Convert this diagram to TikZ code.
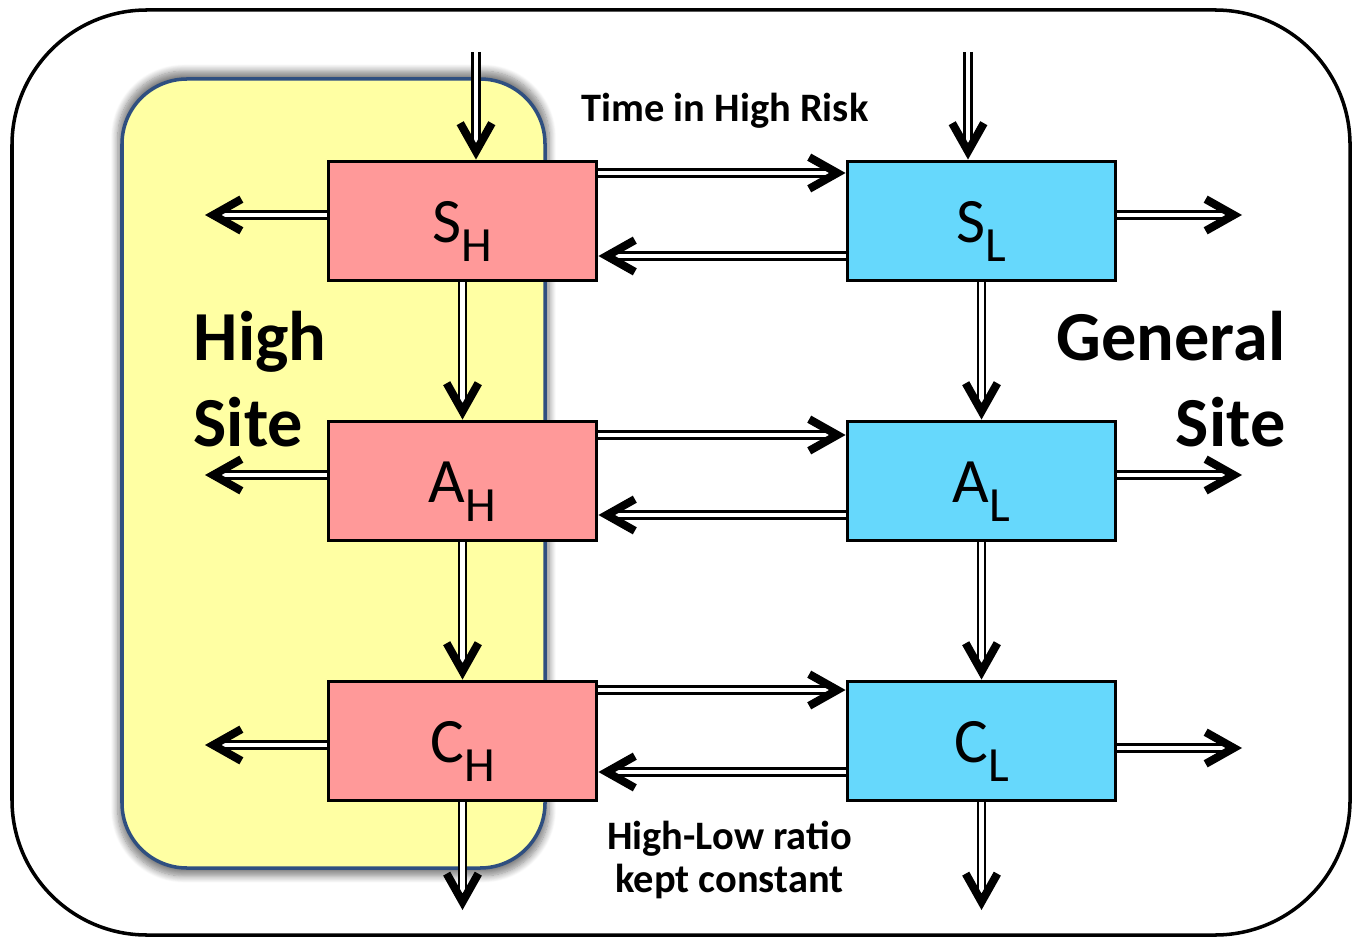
\documentclass[tikz,border=0pt]{standalone}
\usepackage{fontspec}
\setmainfont{Carlito}
\usetikzlibrary{arrows.meta,decorations.markings,shadows.blur}
\definecolor{yel}{HTML}{FFFFA3}
\definecolor{yelb}{HTML}{2F4F80}
\definecolor{pinkf}{HTML}{FF9999}
\definecolor{bluef}{HTML}{66D8FC}
\newcommand\compart[2]{#1\raisebox{-5.4pt}{\fontsize{14}{16}\selectfont #2}}
\tikzset{
  box/.style={draw=black, line width=1.1pt, minimum width=2.68cm, minimum height=1.19cm,
    inner sep=0pt, text height=0.5cm, text depth=0.07cm, font=\fontsize{18}{20}\selectfont},
  flow/.style={draw=black, line width=0.75pt, double=white, double distance=1.2pt, shorten >=4pt,
    postaction={decorate},
    decoration={markings, mark=at position 1 with {\pgfsetinnerlinewidth{0pt}\arrow[line width=2.3pt, black]{Straight Barb[length=8pt, width=9pt]}}}},
  big/.style={inner sep=0pt, font=\bfseries\fontsize{20}{24.5}\selectfont},
  small/.style={inner sep=0pt, font=\bfseries\fontsize{11.5}{12.2}\selectfont}
}
\begin{document}
\begin{tikzpicture}[x=1cm,y=-1cm]
\useasboundingbox (0,0) rectangle (13.58,9.39);
\draw[line width=1pt, rounded corners=1.35cm] (0.12,0.10) rectangle (13.50,9.35);
\path[fill=yel, draw=yelb, line width=1pt, rounded corners=0.65cm,
  blur shadow={shadow xshift=0pt, shadow yshift=0pt, shadow scale=1.02, shadow blur steps=10, shadow opacity=50}]
  (1.22,0.79) rectangle (5.45,8.68);

\node[big, anchor=north west, align=left] (hs) at (1.93,3.10) {High\\Site};
\node[big, anchor=north east, align=right] (gs) at (12.86,3.10) {General\\Site};
\node[small, anchor=base] (t1) at (7.25,1.22) {Time in High Risk};
\node[small, anchor=north, align=center] (t2) at (7.295,8.20) {High-Low ratio\\kept constant};

\node[box, fill=pinkf] (SH) at (4.625,2.21) {\compart{S}{H}};
\node[box, fill=pinkf] (AH) at (4.625,4.81) {\compart{A}{H}};
\node[box, fill=pinkf] (CH) at (4.625,7.41) {\compart{C}{H}};
\node[box, fill=bluef] (SL) at (9.815,2.21) {\compart{S}{L}};
\node[box, fill=bluef] (AL) at (9.815,4.81) {\compart{A}{L}};
\node[box, fill=bluef] (CL) at (9.815,7.41) {\compart{C}{L}};

\coordinate (inH) at (4.76,0.52);
\coordinate (inL) at (9.68,0.52);
\coordinate (outH) at (4.62,9.10);
\coordinate (outL) at (9.82,9.10);
\coordinate (lS) at (2.05,2.15);
\coordinate (lA) at (2.05,4.75);
\coordinate (lC) at (2.05,7.45);
\coordinate (rS) at (12.42,2.15);
\coordinate (rA) at (12.42,4.75);
\coordinate (rC) at (12.42,7.48);

\draw[flow] (inH) -- (inH |- SH.north);
\draw[flow] (inL) -- (inL |- SL.north);
\draw[flow] (SH.south) -- (AH.north);
\draw[flow] (AH.south) -- (CH.north);
\draw[flow] (SL.south) -- (AL.north);
\draw[flow] (AL.south) -- (CL.north);
\draw[flow] (CH.south) -- (CH.south |- outH);
\draw[flow] (CL.south) -- (CL.south |- outL);

\draw[flow] (SH.west |- lS) -- (lS);
\draw[flow] (AH.west |- lA) -- (lA);
\draw[flow] (CH.west |- lC) -- (lC);
\draw[flow] (SL.east |- rS) -- (rS);
\draw[flow] (AL.east |- rA) -- (rA);
\draw[flow] (CL.east |- rC) -- (rC);

\draw[flow] (SH.east |- 0,1.73) -- (SL.west |- 0,1.73);
\draw[flow] (SL.west |- 0,2.56) -- (SH.east |- 0,2.56);
\draw[flow] (AH.east |- 0,4.35) -- (AL.west |- 0,4.35);
\draw[flow] (AL.west |- 0,5.15) -- (AH.east |- 0,5.15);
\draw[flow] (CH.east |- 0,6.90) -- (CL.west |- 0,6.90);
\draw[flow] (CL.west |- 0,7.72) -- (CH.east |- 0,7.72);
\end{tikzpicture}
\end{document}
